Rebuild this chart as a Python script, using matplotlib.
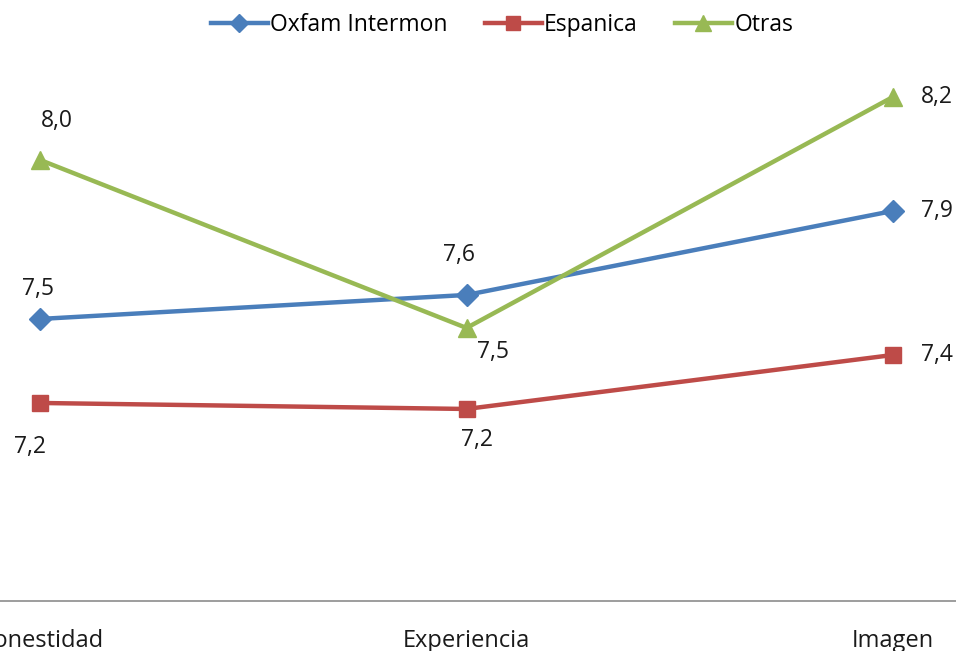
import numpy as np
import matplotlib
matplotlib.use("Agg")
import matplotlib.pyplot as plt

plt.rcParams['font.family'] = ['Open Sans', 'DejaVu Sans']

# data
categories = ["Honestidad", "Experiencia", "Imagen"]
oxfam = [7.50, 7.58, 7.86]
espanica = [7.22, 7.20, 7.38]
otras = [8.03, 7.47, 8.24]

series = [
    ("Oxfam Intermon", oxfam, "#4A7EBB", "D", 11),
    ("Espanica", espanica, "#BE4B48", "s", 12),
    ("Otras", otras, "#98B954", "^", 13),
]
# data label offsets in pixels (dx, dy)
label_offsets = [
    [(-2, 30), (-7, 40), (44, 0)],
    [(-10, -44), (11, -31), (44, 0)],
    [(17, 39), (26, -24), (44, 0)],
]

fig = plt.figure(figsize=(9.56, 6.51), dpi=100)
ax = fig.add_axes([0, 50 / 651, 1, 601 / 651])

x = np.arange(len(categories))
for (name, vals, color, marker, ms), offs in zip(series, label_offsets):
    ax.plot(x, vals, color=color, lw=3.2, marker=marker, markersize=ms,
            label=name, clip_on=False)
    for xi, v, (dx, dy) in zip(x, vals, offs):
        ax.annotate(f"{v:.1f}".replace(".", ","), (xi, v), xytext=(dx, dy),
                    textcoords="offset pixels", ha="center", va="center",
                    fontsize=16.5, color="#1a1a1a")

ax.set_xlim(-40 / 426.5, 2 + 63 / 426.5)
ax.set_ylim(6.56, 8.563)
ax.set_xticks(x)
ax.set_xticklabels(categories, fontsize=17, color="#1a1a1a")
ax.tick_params(axis="x", length=0, pad=20)
ax.set_yticks([])
for s in ["top", "right", "left"]:
    ax.spines[s].set_visible(False)
ax.spines["bottom"].set_color("#8c8c8c")
ax.spines["bottom"].set_linewidth(1.2)

ax.legend(loc="upper center", bbox_to_anchor=(0.525, 1.012), ncol=3,
          frameon=False, fontsize=16.5, handlelength=2.5, columnspacing=1.6,
          handletextpad=0.1, markerscale=0.85)

fig.savefig("out.png", dpi=100)
